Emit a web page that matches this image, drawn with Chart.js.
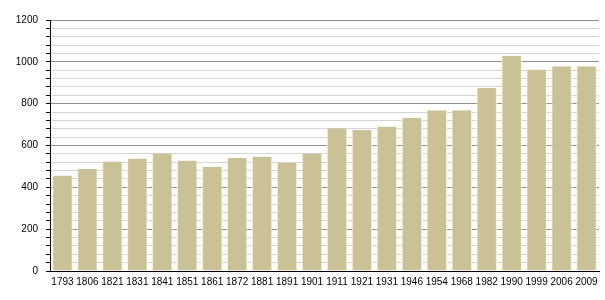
<!DOCTYPE html>
<html>
<head>
<meta charset="utf-8">
<script src="https://cdn.jsdelivr.net/npm/chart.js@4/dist/chart.umd.min.js"></script>
<style>
  html, body { margin: 0; padding: 0; background: #fff; }
  #wrap { width: 605px; height: 300px; }
</style>
</head>
<body>
<div id="wrap"><canvas id="popChart" width="605" height="300"></canvas></div>
<script>
let years = ['1793','1806','1821','1831','1841','1851','1861','1872','1881','1891','1901',
             '1911','1921','1931','1946','1954','1968','1982','1990','1999','2006','2009'];
let population = [457, 489, 523, 538, 562, 528, 499, 542, 547, 518, 562,
                  682, 674, 691, 733, 768, 768, 875, 1029, 963, 979, 979];
let yTicks = [0, 200, 400, 600, 800, 1000, 1200];

let ctx = document.getElementById('popChart').getContext('2d');

let popChart = new Chart(ctx, {
  type: 'bar',
  data: {
    labels: years,
    datasets: [{
      data: population,
      backgroundColor: '#cbc196',
      borderColor: '#f7f2d8',
      borderWidth: { left: 1, right: 1, top: 0, bottom: 0 },
      borderSkipped: false,
      barPercentage: 0.82,
      categoryPercentage: 1.0
    }]
  },
  options: {
    responsive: false,
    animation: false,
    layout: {
      padding: { top: 20, right: 6, left: 0, bottom: 9 }
    },
    plugins: {
      legend: { display: false },
      tooltip: { enabled: false }
    },
    scales: {
      x: {
        grid: { display: false, drawTicks: false },
        border: { color: '#000', width: 1 },
        ticks: {
          color: '#000',
          padding: 5,
          maxRotation: 0,
          autoSkip: false,
          font: { family: 'Liberation Sans', size: 10 }
        },
        afterFit: (axis) => { axis.height = 20; }
      },
      y: {
        min: 0,
        max: 1200,
        grid: {
          color: (c) => c.tick && c.tick.value % 200 === 0 ? '#909090' : '#d4d4d4',
          tickColor: '#000',
          tickLength: 4
        },
        border: { color: '#000', width: 1 },
        ticks: {
          stepSize: 40,
          autoSkip: false,
          color: '#000',
          padding: 8,
          font: { family: 'Liberation Sans', size: 10 },
          callback: (value) => yTicks.includes(value) ? String(value) : ''
        },
        afterFit: (axis) => { axis.width = 50; }
      }
    }
  }
});
</script>
</body>
</html>
